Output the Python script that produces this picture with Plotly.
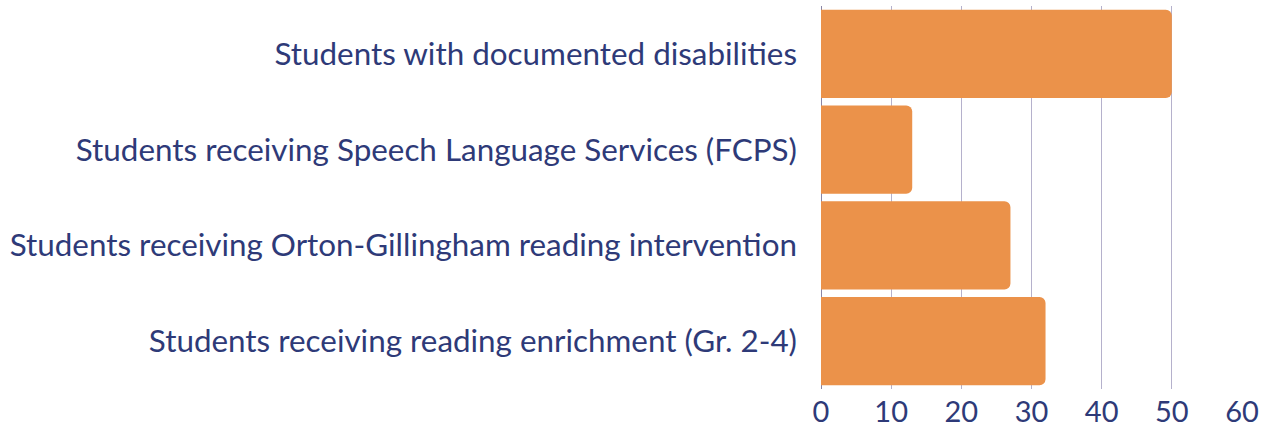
import plotly.graph_objects as go

categories = [
    "Students with documented disabilities",
    "Students receiving Speech Language Services (FCPS)",
    "Students receiving Orton-Gillingham reading intervention",
    "Students receiving reading enrichment (Gr. 2-4)",
]
values = [50, 13, 27, 32]
x_ticks = [0, 10, 20, 30, 40, 50, 60]

text_color = "#2E3A78"
bar_color = "#EB924A"

fig = go.Figure(
    go.Bar(
        x=values,
        y=categories,
        orientation="h",
        marker=dict(color=bar_color, cornerradius=6, line=dict(width=0)),
        hoverinfo="x+y",
    )
)

fig.update_layout(
    width=1266,
    height=429,
    margin=dict(l=821, r=24, t=6, b=40, autoexpand=False),
    paper_bgcolor="white",
    plot_bgcolor="white",
    bargap=0.08,
    showlegend=False,
    font=dict(family="Lato, sans-serif", color=text_color),
)

fig.update_xaxes(
    range=[0, 60],
    tickvals=x_ticks,
    ticktext=[str(t) for t in x_ticks],
    showgrid=True,
    gridcolor="#B5B1CC",
    gridwidth=1,
    zeroline=True,
    zerolinecolor="#8A86A6",
    zerolinewidth=1,
    showline=False,
    tickfont=dict(size=29, color=text_color),
    ticklabelstandoff=3,
    automargin=False,
    fixedrange=True,
)

fig.update_yaxes(
    autorange="reversed",
    showgrid=False,
    showline=False,
    tickfont=dict(size=31.4, color=text_color),
    ticklabelstandoff=23,
    automargin=False,
    fixedrange=True,
)

fig.write_html(
    "out.html",
    config={"displayModeBar": False},
    post_script="document.body.style.margin='0';document.body.style.overflow='hidden';",
)
